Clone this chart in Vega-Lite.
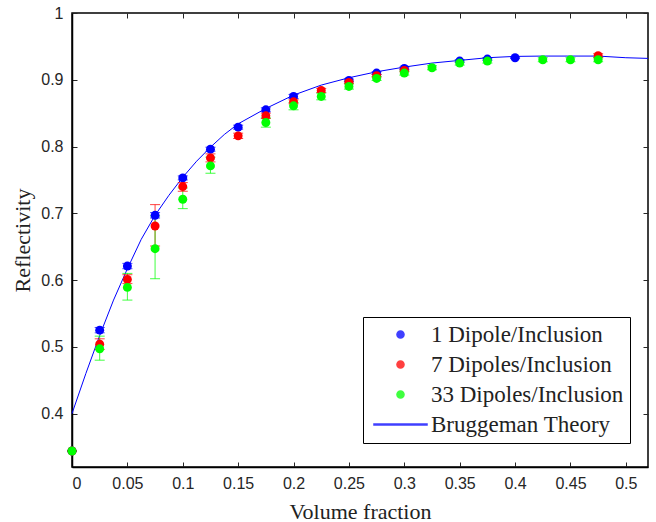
{
  "$schema": "https://vega.github.io/schema/vega-lite/v6.json",
  "width": 576,
  "height": 454,
  "autosize": "none",
  "padding": {"left": 72, "top": 13, "right": 8, "bottom": 55},
  "background": "white",
  "config": {
    "view": {"stroke": "black", "strokeWidth": 1.5},
    "axis": {
      "labelFont": "Liberation Sans",
      "labelFontSize": 16,
      "labelColor": "#262626",
      "titleFont": "Liberation Serif",
      "titleFontSize": 22,
      "titleFontWeight": "normal",
      "titleColor": "#222222",
      "domainColor": "black",
      "domainWidth": 1.5,
      "tickColor": "#262626",
      "tickWidth": 1,
      "grid": false
    }
  },
  "datasets": {
    "curve": [
      {"x": 0, "y": 0.400, "s": "Bruggeman Theory"},
      {"x": 0.0125, "y": 0.460, "s": "Bruggeman Theory"},
      {"x": 0.025, "y": 0.517, "s": "Bruggeman Theory"},
      {"x": 0.0375, "y": 0.570, "s": "Bruggeman Theory"},
      {"x": 0.05, "y": 0.617, "s": "Bruggeman Theory"},
      {"x": 0.0625, "y": 0.661, "s": "Bruggeman Theory"},
      {"x": 0.075, "y": 0.697, "s": "Bruggeman Theory"},
      {"x": 0.0875, "y": 0.727, "s": "Bruggeman Theory"},
      {"x": 0.1, "y": 0.754, "s": "Bruggeman Theory"},
      {"x": 0.1125, "y": 0.778, "s": "Bruggeman Theory"},
      {"x": 0.125, "y": 0.799, "s": "Bruggeman Theory"},
      {"x": 0.1375, "y": 0.818, "s": "Bruggeman Theory"},
      {"x": 0.15, "y": 0.834, "s": "Bruggeman Theory"},
      {"x": 0.175, "y": 0.857, "s": "Bruggeman Theory"},
      {"x": 0.2, "y": 0.877, "s": "Bruggeman Theory"},
      {"x": 0.225, "y": 0.892, "s": "Bruggeman Theory"},
      {"x": 0.25, "y": 0.903, "s": "Bruggeman Theory"},
      {"x": 0.275, "y": 0.912, "s": "Bruggeman Theory"},
      {"x": 0.3, "y": 0.919, "s": "Bruggeman Theory"},
      {"x": 0.325, "y": 0.925, "s": "Bruggeman Theory"},
      {"x": 0.35, "y": 0.929, "s": "Bruggeman Theory"},
      {"x": 0.375, "y": 0.933, "s": "Bruggeman Theory"},
      {"x": 0.4, "y": 0.935, "s": "Bruggeman Theory"},
      {"x": 0.425, "y": 0.9355, "s": "Bruggeman Theory"},
      {"x": 0.45, "y": 0.9355, "s": "Bruggeman Theory"},
      {"x": 0.475, "y": 0.9355, "s": "Bruggeman Theory"},
      {"x": 0.5, "y": 0.933, "s": "Bruggeman Theory"},
      {"x": 0.52, "y": 0.932, "s": "Bruggeman Theory"}
    ],
    "pts": [
      {"s": "1 Dipole/Inclusion", "o": 1, "x": 0, "y": 0.344, "lo": 0.344, "hi": 0.344},
      {"s": "1 Dipole/Inclusion", "o": 1, "x": 0.025, "y": 0.525, "lo": 0.521, "hi": 0.529},
      {"s": "1 Dipole/Inclusion", "o": 1, "x": 0.05, "y": 0.621, "lo": 0.617, "hi": 0.625},
      {"s": "1 Dipole/Inclusion", "o": 1, "x": 0.075, "y": 0.697, "lo": 0.693, "hi": 0.701},
      {"s": "1 Dipole/Inclusion", "o": 1, "x": 0.1, "y": 0.753, "lo": 0.750, "hi": 0.756},
      {"s": "1 Dipole/Inclusion", "o": 1, "x": 0.125, "y": 0.796, "lo": 0.793, "hi": 0.799},
      {"s": "1 Dipole/Inclusion", "o": 1, "x": 0.15, "y": 0.829, "lo": 0.826, "hi": 0.832},
      {"s": "1 Dipole/Inclusion", "o": 1, "x": 0.175, "y": 0.855, "lo": 0.852, "hi": 0.858},
      {"s": "1 Dipole/Inclusion", "o": 1, "x": 0.2, "y": 0.875, "lo": 0.872, "hi": 0.878},
      {"s": "1 Dipole/Inclusion", "o": 1, "x": 0.25, "y": 0.899, "lo": 0.897, "hi": 0.901},
      {"s": "1 Dipole/Inclusion", "o": 1, "x": 0.275, "y": 0.910, "lo": 0.908, "hi": 0.912},
      {"s": "1 Dipole/Inclusion", "o": 1, "x": 0.3, "y": 0.917, "lo": 0.915, "hi": 0.919},
      {"s": "1 Dipole/Inclusion", "o": 1, "x": 0.35, "y": 0.928, "lo": 0.926, "hi": 0.930},
      {"s": "1 Dipole/Inclusion", "o": 1, "x": 0.375, "y": 0.931, "lo": 0.929, "hi": 0.933},
      {"s": "1 Dipole/Inclusion", "o": 1, "x": 0.4, "y": 0.933, "lo": 0.932, "hi": 0.934},
      {"s": "7 Dipoles/Inclusion", "o": 2, "x": 0, "y": 0.344, "lo": 0.344, "hi": 0.344},
      {"s": "7 Dipoles/Inclusion", "o": 2, "x": 0.025, "y": 0.504, "lo": 0.496, "hi": 0.512},
      {"s": "7 Dipoles/Inclusion", "o": 2, "x": 0.05, "y": 0.601, "lo": 0.595, "hi": 0.608},
      {"s": "7 Dipoles/Inclusion", "o": 2, "x": 0.075, "y": 0.681, "lo": 0.651, "hi": 0.713},
      {"s": "7 Dipoles/Inclusion", "o": 2, "x": 0.1, "y": 0.740, "lo": 0.733, "hi": 0.746},
      {"s": "7 Dipoles/Inclusion", "o": 2, "x": 0.125, "y": 0.783, "lo": 0.777, "hi": 0.789},
      {"s": "7 Dipoles/Inclusion", "o": 2, "x": 0.15, "y": 0.816, "lo": 0.812, "hi": 0.820},
      {"s": "7 Dipoles/Inclusion", "o": 2, "x": 0.175, "y": 0.846, "lo": 0.842, "hi": 0.850},
      {"s": "7 Dipoles/Inclusion", "o": 2, "x": 0.2, "y": 0.867, "lo": 0.864, "hi": 0.870},
      {"s": "7 Dipoles/Inclusion", "o": 2, "x": 0.225, "y": 0.884, "lo": 0.881, "hi": 0.887},
      {"s": "7 Dipoles/Inclusion", "o": 2, "x": 0.25, "y": 0.896, "lo": 0.894, "hi": 0.898},
      {"s": "7 Dipoles/Inclusion", "o": 2, "x": 0.275, "y": 0.906, "lo": 0.904, "hi": 0.908},
      {"s": "7 Dipoles/Inclusion", "o": 2, "x": 0.3, "y": 0.914, "lo": 0.912, "hi": 0.916},
      {"s": "7 Dipoles/Inclusion", "o": 2, "x": 0.475, "y": 0.936, "lo": 0.933, "hi": 0.939},
      {"s": "33 Dipoles/Inclusion", "o": 3, "x": 0, "y": 0.344, "lo": 0.344, "hi": 0.344},
      {"s": "33 Dipoles/Inclusion", "o": 3, "x": 0.025, "y": 0.497, "lo": 0.480, "hi": 0.516},
      {"s": "33 Dipoles/Inclusion", "o": 3, "x": 0.05, "y": 0.589, "lo": 0.570, "hi": 0.610},
      {"s": "33 Dipoles/Inclusion", "o": 3, "x": 0.075, "y": 0.647, "lo": 0.602, "hi": 0.696},
      {"s": "33 Dipoles/Inclusion", "o": 3, "x": 0.1, "y": 0.721, "lo": 0.707, "hi": 0.738},
      {"s": "33 Dipoles/Inclusion", "o": 3, "x": 0.125, "y": 0.771, "lo": 0.760, "hi": 0.784},
      {"s": "33 Dipoles/Inclusion", "o": 3, "x": 0.175, "y": 0.836, "lo": 0.829, "hi": 0.843},
      {"s": "33 Dipoles/Inclusion", "o": 3, "x": 0.2, "y": 0.861, "lo": 0.855, "hi": 0.866},
      {"s": "33 Dipoles/Inclusion", "o": 3, "x": 0.225, "y": 0.875, "lo": 0.870, "hi": 0.880},
      {"s": "33 Dipoles/Inclusion", "o": 3, "x": 0.25, "y": 0.890, "lo": 0.886, "hi": 0.894},
      {"s": "33 Dipoles/Inclusion", "o": 3, "x": 0.275, "y": 0.902, "lo": 0.899, "hi": 0.905},
      {"s": "33 Dipoles/Inclusion", "o": 3, "x": 0.3, "y": 0.910, "lo": 0.907, "hi": 0.913},
      {"s": "33 Dipoles/Inclusion", "o": 3, "x": 0.325, "y": 0.918, "lo": 0.915, "hi": 0.921},
      {"s": "33 Dipoles/Inclusion", "o": 3, "x": 0.35, "y": 0.925, "lo": 0.922, "hi": 0.928},
      {"s": "33 Dipoles/Inclusion", "o": 3, "x": 0.375, "y": 0.928, "lo": 0.925, "hi": 0.931},
      {"s": "33 Dipoles/Inclusion", "o": 3, "x": 0.425, "y": 0.930, "lo": 0.927, "hi": 0.933},
      {"s": "33 Dipoles/Inclusion", "o": 3, "x": 0.45, "y": 0.930, "lo": 0.927, "hi": 0.933},
      {"s": "33 Dipoles/Inclusion", "o": 3, "x": 0.475, "y": 0.930, "lo": 0.927, "hi": 0.933}
    ]
  },
  "layer": [
    {
      "data": {"name": "curve"},
      "mark": {"type": "point", "opacity": 0},
      "encoding": {
        "x": {"field": "x", "type": "quantitative", "scale": {"domain": [0, 0.52], "nice": false, "zero": false},
              "axis": {"orient": "top", "labels": false, "title": null, "domain": false, "values": [0, 0.05, 0.1, 0.15, 0.2, 0.25, 0.3, 0.35, 0.4, 0.45, 0.5], "tickSize": -5}},
        "y": {"field": "y", "type": "quantitative", "scale": {"domain": [0.32, 1], "nice": false, "zero": false},
              "axis": {"orient": "right", "labels": false, "title": null, "domain": false, "values": [0.4, 0.5, 0.6, 0.7, 0.8, 0.9, 1], "tickSize": -5}}
      }
    },
    {
      "data": {"name": "curve"},
      "mark": {"type": "line", "strokeWidth": 1, "interpolate": "linear"},
      "encoding": {
        "x": {"field": "x", "type": "quantitative",
              "axis": {"orient": "bottom", "title": "Volume fraction", "values": [0, 0.05, 0.1, 0.15, 0.2, 0.25, 0.3, 0.35, 0.4, 0.45, 0.5], "format": "~g", "tickSize": -5, "labelPadding": 13, "titleBaseline": "middle", "titleY": 44, "titleX": 288}},
        "y": {"field": "y", "type": "quantitative",
              "axis": {"orient": "left", "title": "Reflectivity", "values": [0.4, 0.5, 0.6, 0.7, 0.8, 0.9, 1], "format": "~g", "tickSize": -5, "labelPadding": 14, "titleAngle": -90, "titleBaseline": "middle", "titleAlign": "center", "titleX": -50, "titleY": 227}},
        "color": {"field": "s", "type": "nominal"}
      }
    },
    {
      "data": {"name": "pts"},
      "mark": {"type": "rule", "strokeWidth": 1, "opacity": 0.75},
      "encoding": {
        "x": {"field": "x", "type": "quantitative", "axis": null},
        "y": {"field": "lo", "type": "quantitative", "axis": null},
        "y2": {"field": "hi"},
        "color": {"field": "s", "type": "nominal"}
      }
    },
    {
      "data": {"name": "pts"},
      "mark": {"type": "tick", "orient": "horizontal", "size": 10, "thickness": 1, "opacity": 0.75},
      "encoding": {
        "x": {"field": "x", "type": "quantitative", "axis": null},
        "y": {"field": "lo", "type": "quantitative", "axis": null},
        "color": {"field": "s", "type": "nominal"}
      }
    },
    {
      "data": {"name": "pts"},
      "mark": {"type": "tick", "orient": "horizontal", "size": 10, "thickness": 1, "opacity": 0.75},
      "encoding": {
        "x": {"field": "x", "type": "quantitative", "axis": null},
        "y": {"field": "hi", "type": "quantitative", "axis": null},
        "color": {"field": "s", "type": "nominal"}
      }
    },
    {
      "data": {"name": "pts"},
      "mark": {"type": "point", "filled": true, "size": 80, "opacity": 1},
      "encoding": {
        "x": {"field": "x", "type": "quantitative", "axis": null},
        "y": {"field": "y", "type": "quantitative", "axis": null},
        "order": {"field": "o", "type": "quantitative"},
        "shape": {
          "field": "s", "type": "nominal",
          "scale": {
            "domain": ["1 Dipole/Inclusion", "7 Dipoles/Inclusion", "33 Dipoles/Inclusion", "Bruggeman Theory"],
            "range": ["circle", "circle", "circle", "M-7.5,-0.12H7.5V0.12H-7.5Z"]
          },
          "legend": {
            "title": null,
            "orient": "none",
            "legendX": 291,
            "legendY": 304,
            "padding": 6,
            "strokeColor": "black",
            "fillColor": "white",
            "labelFont": "Liberation Serif",
            "labelFontSize": 23,
            "labelColor": "#222222",
            "labelLimit": 400,
            "labelOffset": 19,
            "rowPadding": 6,
            "symbolSize": 50,
            "symbolOffset": 20,
            "symbolOpacity": 1
          }
        },
        "color": {
          "field": "s", "type": "nominal",
          "scale": {
            "domain": ["1 Dipole/Inclusion", "7 Dipoles/Inclusion", "33 Dipoles/Inclusion", "Bruggeman Theory"],
            "range": ["#0000ff", "#ff0000", "#00ff00", "#0000ff"]
          },
          "legend": {
            "title": null,
            "orient": "none",
            "legendX": 291,
            "legendY": 304,
            "padding": 6,
            "strokeColor": "black",
            "fillColor": "white",
            "labelFont": "Liberation Serif",
            "labelFontSize": 23,
            "labelColor": "#222222",
            "labelLimit": 400,
            "labelOffset": 19,
            "rowPadding": 6,
            "symbolSize": 50,
            "symbolOffset": 20,
            "symbolOpacity": 1
          }
        }
      }
    }
  ],
  "resolve": {"axis": {"x": "independent", "y": "independent"}}
}
